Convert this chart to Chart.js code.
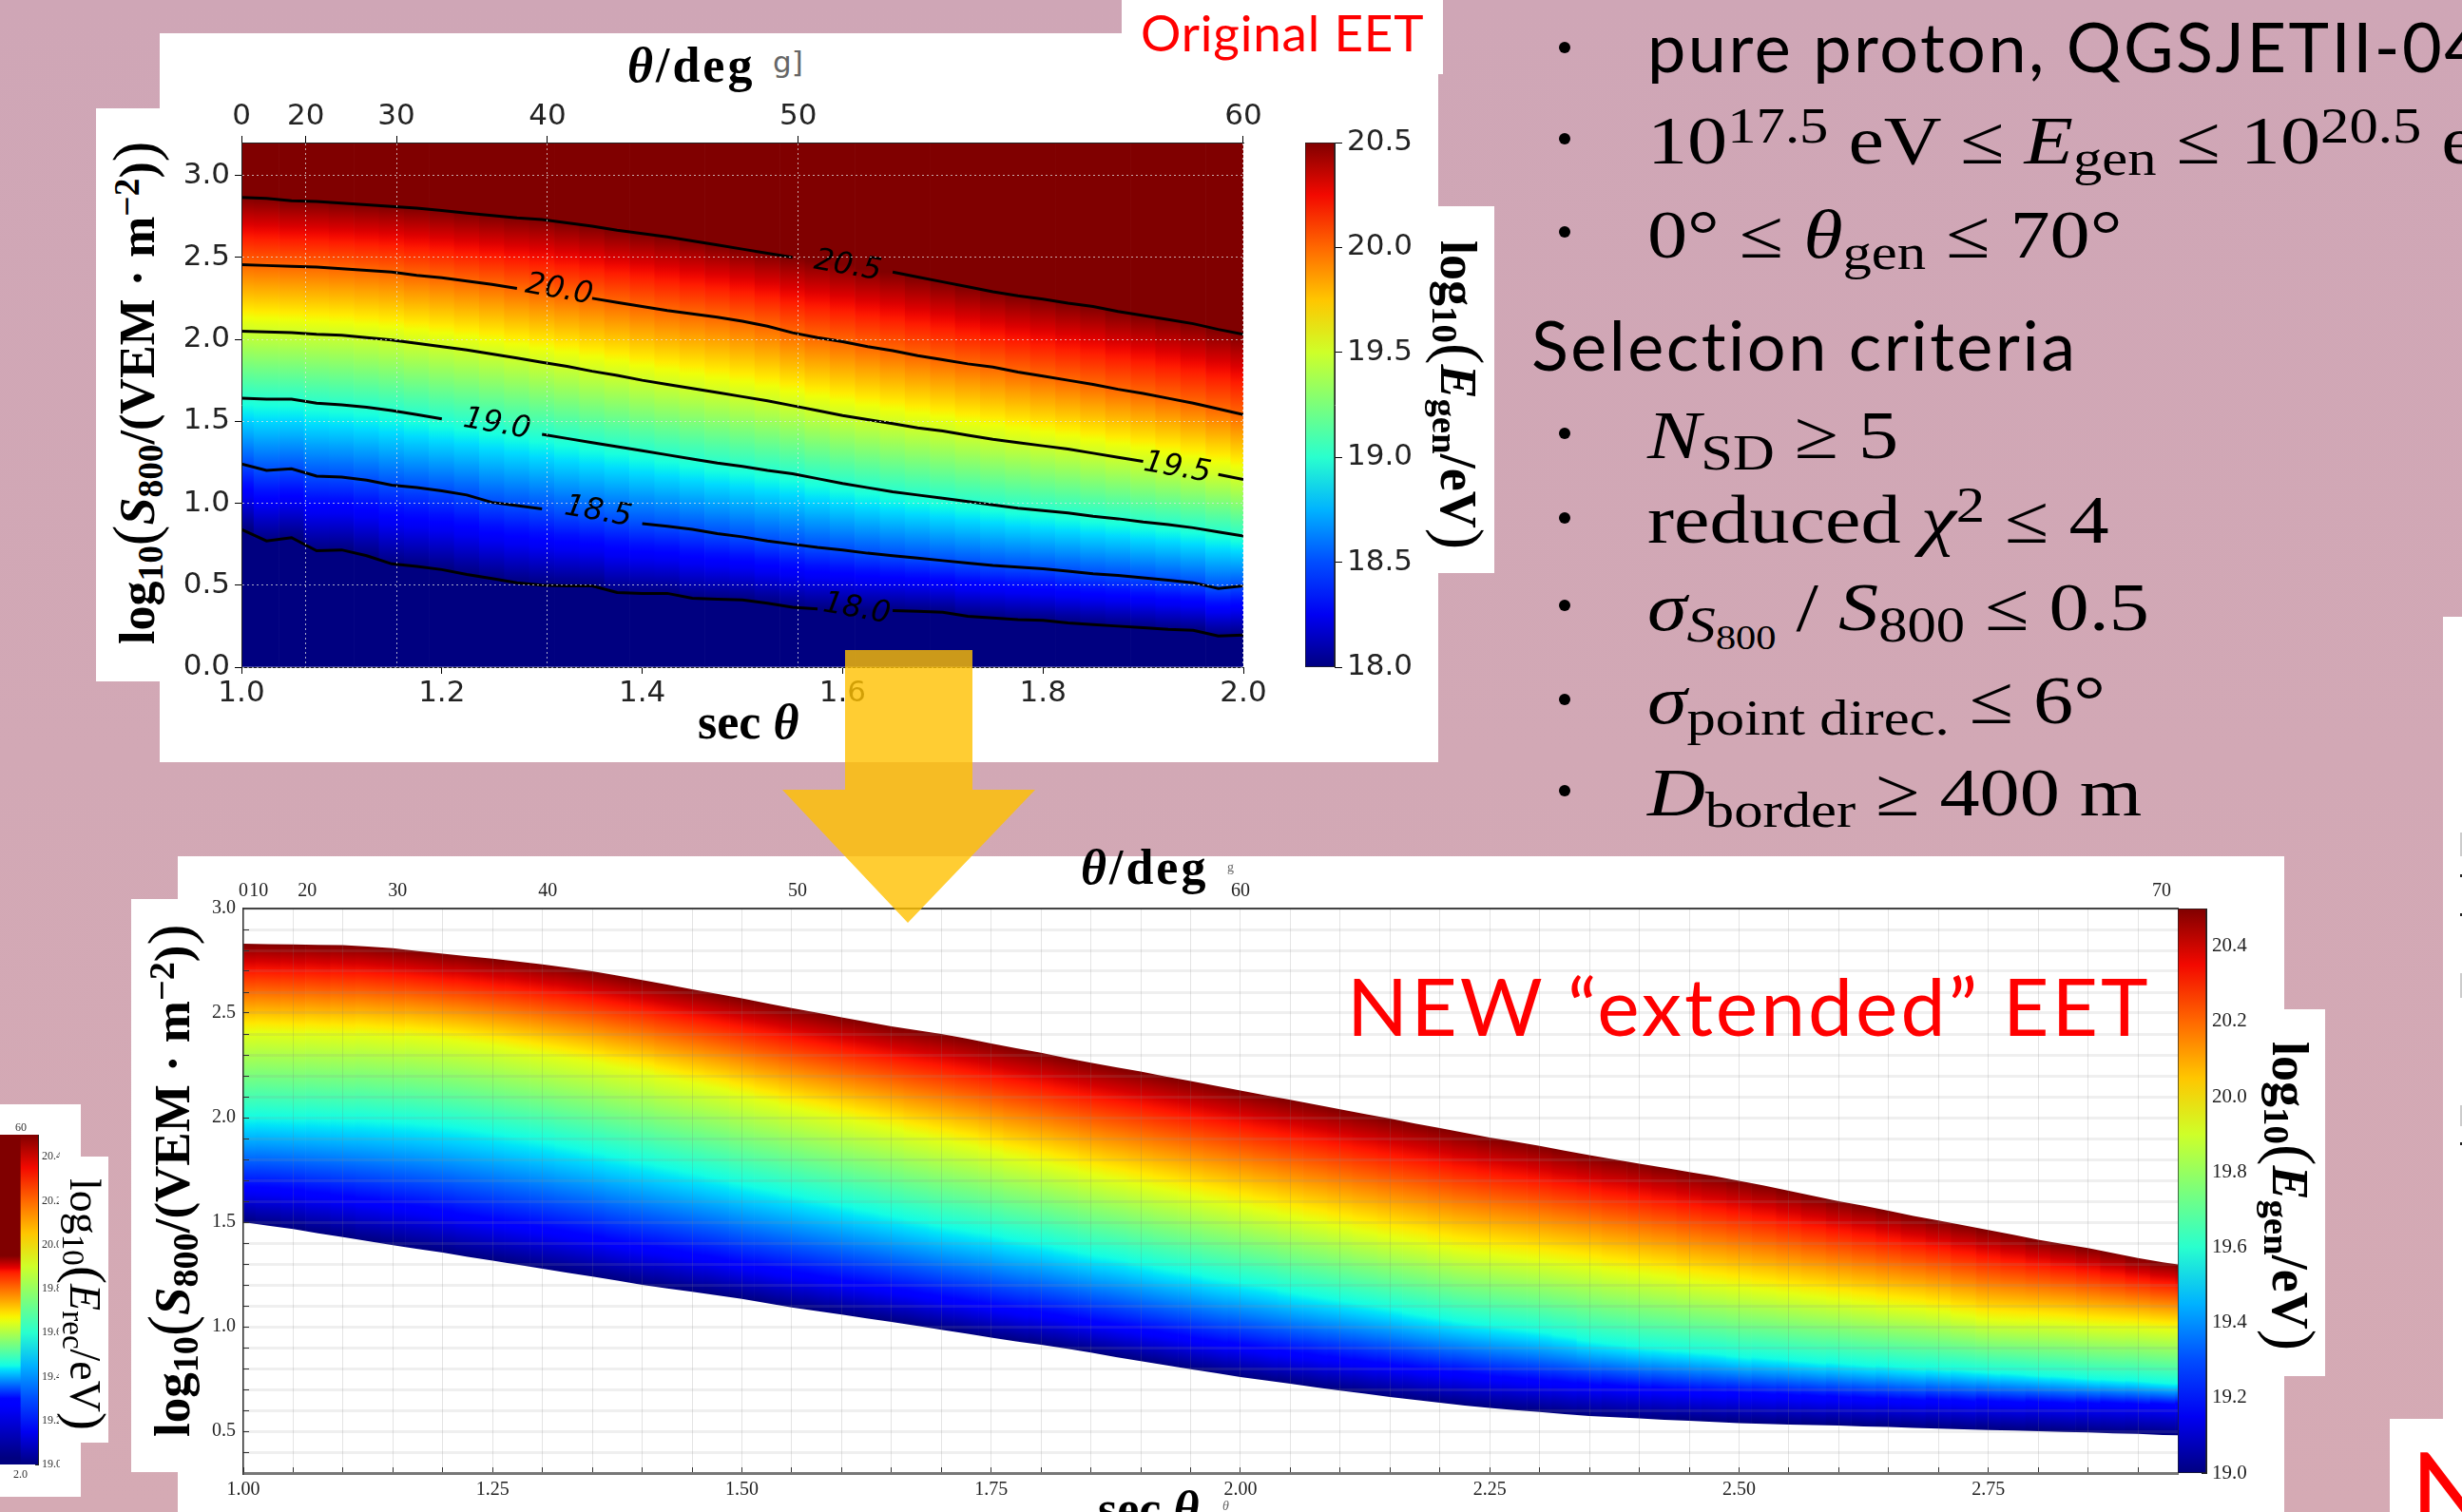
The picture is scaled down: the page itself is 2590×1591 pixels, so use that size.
<!DOCTYPE html>
<html>
<head>
<meta charset="utf-8">
<script src="https://cdn.jsdelivr.net/npm/chart.js@4"></script>
<style>
html, body { margin: 0; width: 2590px; height: 1591px; overflow: hidden; background: linear-gradient(#cfa6b6, #d5aab4); }
.box { position: absolute; background: #fff; }
canvas { position: absolute; }
.t { position: absolute; white-space: nowrap; line-height: 1; }
.sans { font-family: Lato, sans-serif; color: #000; letter-spacing: 2.5px; }
.red { font-family: Lato, sans-serif; color: #f00; }
.math { font-family: 'Liberation Serif', serif; font-size: 72px; color: #000; transform-origin: 0 0; transform: scaleX(1.17); }
.lab { font-family: 'Liberation Serif', serif; font-weight: bold; color: #000; font-size: 52px; }
.rm { font-family: 'Liberation Serif', serif; color: #000; }
.dot { position: absolute; width: 12px; height: 12px; border-radius: 6px; background: #000; }
.sb { font-size: .72em; position: relative; top: .24em; line-height: 0; }
.sp { font-size: .72em; position: relative; top: -.42em; line-height: 0; }
.bp { font-size: 1.25em; font-weight: normal; position: relative; top: .03em; line-height: 0; }
.gr { font-family: 'DejaVu Sans', sans-serif; color: #666; }
.bit { position: absolute; left: 2588px; width: 2px; }
#arrow { position: absolute; left: 823px; top: 684px; width: 266px; height: 287px; background: rgba(255, 192, 0, .8);
  clip-path: polygon(66px 0, 200px 0, 200px 147px, 266px 147px, 132px 287px, 0 147px, 66px 147px); }
</style>
</head>
<body>
<!-- white pieces of the slide, upper plot -->
<div class="box" style="left:168px;top:35px;width:1345px;height:767px"></div>
<div class="box" style="left:101px;top:114px;width:67px;height:603px"></div>
<div class="box" style="left:1180px;top:0;width:338px;height:78px"></div>
<div class="box" style="left:1513px;top:217px;width:59px;height:386px"></div>
<!-- lower plot -->
<div class="box" style="left:187px;top:901px;width:2216px;height:690px"></div>
<div class="box" style="left:138px;top:946px;width:49px;height:603px"></div>
<div class="box" style="left:2403px;top:1062px;width:43px;height:386px"></div>
<div class="box" style="left:2570px;top:649px;width:20px;height:942px"></div>
<div class="box" style="left:2514px;top:1493px;width:76px;height:98px"></div>
<!-- bits of text cut by the right edge -->
<div class="bit" style="top:876px;height:25px;background:#ccc"></div>
<div class="bit" style="top:920px;height:3px;background:#222"></div>
<div class="bit" style="top:961px;height:3px;background:#222"></div>
<div class="bit" style="top:1024px;height:26px;background:#ccc"></div>
<div class="bit" style="top:1163px;height:22px;background:#ccc"></div>
<div class="bit" style="top:1202px;height:3px;background:#222"></div>
<!-- cut off plot on the left -->
<div class="box" style="left:0;top:1162px;width:85px;height:413px"></div>

<canvas id="stripChart" width="77" height="387" style="left:-14px;top:1174px"></canvas>
<div class="box" style="left:62px;top:1217px;width:52px;height:301px"></div>
<div class="t gr" style="left:16px;top:1179px;font:12px 'Liberation Serif';color:#333">60</div>
<div class="t gr" style="left:14px;top:1544px;font:12px 'Liberation Serif';color:#333">2.0</div>
<div class="t rm" style="left:112px;top:1240px;font-size:46px;transform-origin:0 0;transform:rotate(90deg)">log<span class="sb">10</span><span class="bp">(</span><i>E</i><span class="sb">rec</span>/eV<span class="bp">)</span></div>

<canvas id="upperChart" width="1154" height="642" style="left:194px;top:105px"></canvas>
<canvas id="upperBar" width="141" height="592" style="left:1373px;top:130px"></canvas>
<canvas id="lowerChart" width="2105" height="670" style="left:196px;top:921px"></canvas>
<canvas id="lowerBar" width="110" height="624" style="left:2291px;top:941px"></canvas>

<!-- axis titles -->
<div class="t lab" style="left:660px;top:43px;letter-spacing:3px"><i>θ</i>/deg</div>
<div class="t gr" style="left:813px;top:50px;font-size:31px">g]</div>
<div class="t lab" style="left:734px;top:734px">sec <i>θ</i></div>
<div class="t lab" style="left:119px;top:678px;font-size:52px;transform-origin:0 0;transform:rotate(-90deg)">log<span class="sb">10</span><span class="bp">(</span><i>S</i><span class="sb">800</span>/(VEM · m<span class="sp">−2</span>)<span class="bp">)</span></div>
<div class="t lab" style="left:1561px;top:253px;font-size:54px;transform-origin:0 0;transform:rotate(90deg)">log<span class="sb">10</span><span class="bp">(</span><i>E</i><span class="sb">gen</span>/eV<span class="bp">)</span></div>

<div class="t lab" style="left:1137px;top:887px;letter-spacing:3px"><i>θ</i>/deg</div>
<div class="t gr" style="left:1291px;top:905px;font:14px 'Liberation Serif'">g</div>
<div class="t lab" style="left:1155px;top:1562px">sec <i>θ</i></div>
<div class="t gr" style="left:1286px;top:1577px;font:italic 14px 'Liberation Serif'">θ</div>
<div class="t lab" style="left:155px;top:1512px;font-size:53px;transform-origin:0 0;transform:rotate(-90deg)">log<span class="sb">10</span><span class="bp">(</span><i>S</i><span class="sb">800</span>/(VEM · m<span class="sp">−2</span>)<span class="bp">)</span></div>
<div class="t lab" style="left:2436px;top:1096px;font-size:54px;transform-origin:0 0;transform:rotate(90deg)">log<span class="sb">10</span><span class="bp">(</span><i>E</i><span class="sb">gen</span>/eV<span class="bp">)</span></div>

<!-- slide texts -->
<div class="t red" style="left:1200px;top:7px;font-size:53px;letter-spacing:.8px">Original EET</div>
<div class="t red" style="left:1417px;top:1016px;font-size:84px;letter-spacing:3px">NEW “extended” EET</div>
<div class="t red" style="left:2536px;top:1510px;font-size:112px">N</div>

<div class="dot" style="left:1640px;top:44px"></div>
<div class="t sans" style="left:1733px;top:12px;font-size:72px">pure proton, QGSJETII-04</div>
<div class="dot" style="left:1640px;top:140px"></div>
<div class="t math" style="left:1733px;top:112px">10<span class="sp">17.5</span> eV ≤ <i>E</i><span class="sb">gen</span> ≤ 10<span class="sp">20.5</span> eV</div>
<div class="dot" style="left:1640px;top:238px"></div>
<div class="t math" style="left:1733px;top:211px">0° ≤ <i>θ</i><span class="sb">gen</span> ≤ 70°</div>
<div class="t sans" style="left:1611px;top:326px;font-size:72px">Selection criteria</div>
<div class="dot" style="left:1640px;top:450px"></div>
<div class="t math" style="left:1733px;top:422px"><i>N</i><span class="sb">SD</span> ≥ 5</div>
<div class="dot" style="left:1640px;top:539px"></div>
<div class="t math" style="left:1733px;top:511px">reduced <i>χ</i><span class="sp">2</span> ≤ 4</div>
<div class="dot" style="left:1640px;top:631px"></div>
<div class="t math" style="left:1733px;top:603px"><i>σ</i><span class="sb"><i>S</i><span style="font-size:.7em;position:relative;top:.2em">800</span></span> / <i>S</i><span class="sb">800</span> ≤ 0.5</div>
<div class="dot" style="left:1640px;top:730px"></div>
<div class="t math" style="left:1733px;top:701px"><i>σ</i><span class="sb">point direc.</span> ≤ 6°</div>
<div class="dot" style="left:1640px;top:826px"></div>
<div class="t math" style="left:1733px;top:798px"><i>D</i><span class="sb">border</span> ≥ 400 m</div>

<div id="arrow"></div>

<script>
// --- UPPER PLOT DATA | sec theta columns and contour heights --- //
const secUpper = [1.000, 1.025, 1.050, 1.075, 1.100, 1.125, 1.150, 1.175, 1.200, 1.225, 1.250, 1.275, 1.300, 1.325, 1.350, 1.375, 1.400, 1.425, 1.450, 1.475, 1.500, 1.525, 1.550, 1.575, 1.600, 1.625, 1.650, 1.675, 1.700, 1.725, 1.750, 1.775, 1.800, 1.825, 1.850, 1.875, 1.900, 1.925, 1.950, 1.975, 2.000];
const contour180 = [.84, .77, .79, .71, .715, .68, .63, .615, .595, .565, .54, .515, .50, .495, .495, .455, .45, .45, .42, .415, .41, .39, .365, .355, .35, .345, .345, .34, .335, .31, .30, .29, .285, .27, .26, .25, .24, .23, .225, .19, .195];
const contour185 = [1.24, 1.20, 1.21, 1.165, 1.16, 1.14, 1.11, 1.095, 1.075, 1.05, 1.005, .985, .965, .94, .92, .90, .875, .86, .84, .815, .795, .77, .75, .73, .715, .695, .68, .665, .65, .635, .62, .61, .60, .585, .57, .56, .545, .53, .515, .48, .495];
const contour190 = [1.64, 1.635, 1.635, 1.61, 1.60, 1.585, 1.565, 1.54, 1.515, 1.495, 1.47, 1.445, 1.42, 1.395, 1.37, 1.345, 1.32, 1.295, 1.27, 1.245, 1.225, 1.20, 1.18, 1.15, 1.12, 1.095, 1.07, 1.05, 1.03, 1.01, .99, .97, .955, .94, .92, .905, .885, .87, .85, .825, .80];
const contour195 = [2.05, 2.045, 2.04, 2.03, 2.025, 2.01, 1.995, 1.975, 1.955, 1.935, 1.91, 1.885, 1.86, 1.835, 1.805, 1.78, 1.75, 1.725, 1.70, 1.675, 1.65, 1.625, 1.595, 1.565, 1.535, 1.51, 1.485, 1.46, 1.44, 1.415, 1.39, 1.37, 1.35, 1.33, 1.305, 1.28, 1.255, 1.23, 1.205, 1.175, 1.145];
const contour200 = [2.455, 2.45, 2.445, 2.44, 2.43, 2.42, 2.41, 2.39, 2.375, 2.355, 2.335, 2.31, 2.29, 2.27, 2.25, 2.225, 2.20, 2.175, 2.155, 2.135, 2.11, 2.08, 2.04, 2.01, 1.985, 1.955, 1.93, 1.90, 1.875, 1.85, 1.83, 1.80, 1.775, 1.75, 1.725, 1.695, 1.67, 1.64, 1.61, 1.575, 1.54];
const contour205 = [2.865, 2.86, 2.845, 2.84, 2.83, 2.82, 2.81, 2.80, 2.785, 2.77, 2.755, 2.74, 2.73, 2.71, 2.69, 2.665, 2.645, 2.625, 2.60, 2.575, 2.55, 2.525, 2.50, 2.48, 2.455, 2.43, 2.41, 2.38, 2.35, 2.32, 2.29, 2.265, 2.245, 2.22, 2.20, 2.17, 2.145, 2.12, 2.095, 2.06, 2.03];
const upperLevels = [18, 18.5, 19, 19.5, 20, 20.5];
const upperCurves = [contour180, contour185, contour190, contour195, contour200, contour205];

// contour labels, same order as the levels
const contourText = ['18.0', '18.5', '19.0', '19.5', '20.0', '20.5'];
const contourTextX = [1.614, 1.356, 1.255, 1.934, 1.317, 1.605];
const contourTextY = [.353, .945, 1.48, 1.213, 2.30, 2.445];
const contourGapFrom = [1.57, 1.30, 1.20, 1.90, 1.26, 1.55];
const contourGapTo = [1.67, 1.40, 1.30, 1.98, 1.365, 1.655];

// --- LOWER PLOT DATA | edges and colour heights per column --- //
const secLower = [1.000, 1.025, 1.050, 1.075, 1.100, 1.125, 1.150, 1.175, 1.200, 1.225, 1.250, 1.275, 1.300, 1.325, 1.350, 1.375, 1.400, 1.425, 1.450, 1.475, 1.500, 1.525, 1.550, 1.575, 1.600, 1.625, 1.650, 1.675, 1.700, 1.725, 1.750, 1.775, 1.800, 1.825, 1.850, 1.875, 1.900, 1.925, 1.950, 1.975, 2.000, 2.025, 2.050, 2.075, 2.100, 2.125, 2.150, 2.175, 2.200, 2.225, 2.250, 2.275, 2.300, 2.325, 2.350, 2.375, 2.400, 2.425, 2.450, 2.475, 2.500, 2.525, 2.550, 2.575, 2.600, 2.625, 2.650, 2.675, 2.700, 2.725, 2.750, 2.775, 2.800, 2.825, 2.850, 2.875, 2.900, 2.925, 2.950];
const edge190 = [1.50, 1.483, 1.467, 1.447, 1.428, 1.409, 1.39, 1.372, 1.354, 1.334, 1.316, 1.297, 1.277, 1.258, 1.24, 1.22, 1.20, 1.183, 1.167, 1.15, 1.133, 1.112, 1.092, 1.075, 1.058, 1.04, 1.023, 1.004, .985, .967, .948, .93, .914, .895, .876, .855, .835, .816, .797, .778, .759, .743, .727, .71, .694, .679, .664, .65, .636, .623, .611, .601, .592, .582, .573, .567, .561, .555, .55, .544, .539, .535, .532, .529, .527, .523, .52, .516, .512, .509, .506, .503, .50, .497, .494, .49, .487, .482, .48];
const blue1919 = [1.67, 1.665, 1.655, 1.64, 1.625, 1.61, 1.59, 1.575, 1.555, 1.535, 1.515, 1.495, 1.475, 1.455, 1.435, 1.41, 1.39, 1.37, 1.35, 1.33, 1.305, 1.285, 1.265, 1.245, 1.225, 1.205, 1.185, 1.165, 1.145, 1.125, 1.105, 1.085, 1.07, 1.05, 1.03, 1.01, .99, .97, .95, .93, .915, .895, .88, .865, .85, .835, .82, .805, .79, .78, .765, .755, .745, .735, .725, .72, .71, .705, .695, .69, .685, .68, .675, .67, .665, .66, .655, .65, .65, .645, .645, .64, .64, .635, .635, .635, .63, .63, .63];
const cyan1956 = [2.00, 1.998, 1.995, 1.993, 1.99, 1.985, 1.98, 1.97, 1.96, 1.945, 1.925, 1.905, 1.885, 1.86, 1.835, 1.81, 1.785, 1.76, 1.735, 1.71, 1.68, 1.655, 1.63, 1.605, 1.58, 1.555, 1.53, 1.505, 1.48, 1.46, 1.44, 1.415, 1.395, 1.37, 1.345, 1.325, 1.30, 1.275, 1.255, 1.23, 1.21, 1.19, 1.165, 1.145, 1.125, 1.105, 1.085, 1.06, 1.04, 1.02, 1.005, .99, .975, .955, .93, .915, .90, .89, .88, .87, .855, .85, .84, .83, .825, .815, .81, .80, .795, .79, .78, .775, .765, .76, .75, .745, .74, .73, .725];
const yellow1994 = [2.41, 2.408, 2.405, 2.403, 2.40, 2.397, 2.39, 2.385, 2.375, 2.36, 2.345, 2.325, 2.305, 2.285, 2.265, 2.24, 2.22, 2.19, 2.165, 2.14, 2.11, 2.08, 2.05, 2.025, 2.00, 1.975, 1.95, 1.92, 1.895, 1.87, 1.84, 1.81, 1.785, 1.76, 1.73, 1.705, 1.68, 1.655, 1.63, 1.605, 1.58, 1.555, 1.53, 1.505, 1.48, 1.455, 1.43, 1.41, 1.385, 1.365, 1.35, 1.335, 1.32, 1.305, 1.29, 1.27, 1.255, 1.24, 1.22, 1.205, 1.19, 1.175, 1.16, 1.145, 1.13, 1.115, 1.10, 1.09, 1.075, 1.055, 1.035, 1.03, 1.025, 1.02, 1.01, 1.005, 1.0, .99, .985];
const edge205 = [2.832, 2.830, 2.828, 2.826, 2.825, 2.818, 2.81, 2.797, 2.784, 2.772, 2.76, 2.747, 2.733, 2.717, 2.70, 2.68, 2.658, 2.636, 2.614, 2.592, 2.57, 2.547, 2.524, 2.502, 2.48, 2.458, 2.436, 2.418, 2.40, 2.378, 2.355, 2.332, 2.31, 2.285, 2.262, 2.241, 2.22, 2.197, 2.175, 2.152, 2.13, 2.107, 2.085, 2.062, 2.04, 2.017, 1.995, 1.972, 1.95, 1.927, 1.905, 1.885, 1.865, 1.842, 1.82, 1.80, 1.78, 1.76, 1.74, 1.72, 1.698, 1.675, 1.65, 1.625, 1.60, 1.578, 1.555, 1.53, 1.508, 1.485, 1.462, 1.44, 1.416, 1.396, 1.376, 1.352, 1.328, 1.308, 1.29];
const lowerLevels = [19, 19.19, 19.56, 19.94, 20.5];
const lowerCurves = [edge190, blue1919, cyan1956, yellow1994, edge205];

// --- CUT OFF PLOT | one column, heights given on the colour axis --- //
const stripLevels = [19, 19.19, 19.56, 19.94, 20.31, 20.5];
const stripHeights = [19.03, 19.30, 19.45, 19.65, 19.87, 19.95];

// --- TICKS --- //
const thetaUpper = [0, 20, 30, 40, 50, 60];
const thetaLower = [0, 10, 20, 30, 40, 50, 60, 70];
const thetaMinor = [2, 4, 6, 8, 12, 14, 16, 18, 22, 24, 26, 28, 32, 34, 36, 38, 42, 44, 46, 48, 52, 54, 56, 58, 62, 64, 66, 68];

const sec = deg => 1 / Math.cos(deg * Math.PI / 180);

// --- JET COLOURS --- //
const jetR = [[0, 0], [.35, 0], [.66, 1], [.89, 1], [1, .5]];
const jetG = [[0, 0], [.125, 0], [.375, 1], [.64, 1], [.91, 0], [1, 0]];
const jetB = [[0, .5], [.11, 1], [.34, 1], [.65, 0], [1, 0]];

function piece(keys, t) {
  for (let i = 1; i < keys.length; i++) {
    if (t <= keys[i][0]) {
      const f = (t - keys[i - 1][0]) / (keys[i][0] - keys[i - 1][0]);
      return keys[i - 1][1] + f * (keys[i][1] - keys[i - 1][1]);
    }
  }
  return keys[keys.length - 1][1];
}

function jet(t) {
  t = Math.min(1, Math.max(0, t));
  const c = [jetR, jetG, jetB].map(k => Math.round(piece(k, t) * 255));
  return `rgb(${c[0]},${c[1]},${c[2]})`;
}

// gradient of one column: energy runs between the heights of the levels.
// tilt is the pixel slope of the colour bands, so neighbour columns line up
function columnGradient(chart, levels, heights, low, high, tilt = 0, center = 0) {
  const y = chart.scales.y;
  if (!y || !Number.isFinite(y.bottom) || y.bottom === y.top) return '#000'; // scales not laid out yet
  const bottom = y.bottom;
  const span = bottom - y.top;
  const norm = 1 + tilt * tilt;
  const grad = chart.ctx.createLinearGradient(center, bottom, center + tilt * span / norm, bottom - span / norm);
  for (let i = 0; i < levels.length - 1; i++) {
    for (let k = 0; k <= 10; k++) {
      const f = k / 10;
      const energy = levels[i] + f * (levels[i + 1] - levels[i]);
      const h = heights[i] + f * (heights[i + 1] - heights[i]);
      const pos = (bottom - y.getPixelForValue(h)) / span;
      grad.addColorStop(Math.min(1, Math.max(0, pos)), jet((energy - low) / (high - low)));
    }
  }
  return grad;
}

function lowerColumn(c) {
  const { x, y } = c.chart.scales;
  if (!x || !Number.isFinite(x.left) || !Number.isFinite(y.bottom)) return '#000';
  const i = c.dataIndex;
  const a = Math.max(i - 1, 0);
  const b = Math.min(i + 1, secLower.length - 1);
  const dx = x.getPixelForValue(secLower[b]) - x.getPixelForValue(secLower[a]);
  let tilt = 0;
  lowerCurves.forEach(curve => { tilt += (y.getPixelForValue(curve[b]) - y.getPixelForValue(curve[a])) / dx; });
  tilt /= lowerCurves.length;
  return columnGradient(c.chart, lowerLevels, lowerCurves.map(k => k[i]), 19, 20.5, tilt, x.getPixelForValue(secLower[i]));
}

// fixes the axis sizes so that the plot box lands where it has to
const fixWidth = w => s => { s.width = w; s.paddingTop = s.paddingBottom = 0; };
const fixHeight = h => s => { s.height = h; s.paddingLeft = s.paddingRight = 0; };

const contourLabels = {
  id: 'contourLabels',
  afterDatasetsDraw(chart) {
    const { ctx, scales } = chart;
    contourText.forEach((text, i) => {
      ctx.save();
      ctx.translate(scales.x.getPixelForValue(contourTextX[i]), scales.y.getPixelForValue(contourTextY[i]));
      ctx.rotate(10 * Math.PI / 180);
      ctx.font = "italic 32px 'DejaVu Sans'";
      ctx.fillStyle = '#000';
      ctx.textAlign = 'center';
      ctx.textBaseline = 'middle';
      ctx.fillText(text, 0, 0);
      ctx.restore();
    });
  }
};

// --- UPPER PLOT --- //
const upperFont = { family: "'DejaVu Sans'", size: 31 };

new Chart(document.getElementById('upperChart'), {
  type: 'bar',
  data: {
    datasets: [
      {
        type: 'bar',
        order: 2,
        data: secUpper.map(x => ({ x, y: [0, 3.2] })),
        barPercentage: 1,
        categoryPercentage: 1,
        backgroundColor: c => columnGradient(c.chart, upperLevels, upperCurves.map(a => a[c.dataIndex]), 18, 20.5)
      },
      ...upperCurves.map((curve, n) => ({
        type: 'line',
        order: 1,
        data: secUpper.map((x, i) => ({ x, y: curve[i] })),
        borderWidth: 3,
        pointRadius: 0,
        segment: {
          borderColor: s => (s.p0.parsed.x >= contourGapFrom[n] && s.p1.parsed.x <= contourGapTo[n] ? 'transparent' : '#000')
        }
      }))
    ]
  },
  options: {
    responsive: false,
    animation: false,
    layout: { padding: { right: 40 } },
    plugins: { legend: { display: false }, tooltip: { enabled: false } },
    scales: {
      x: {
        type: 'linear', min: 1, max: 2, offset: false, position: 'bottom',
        afterFit: fixHeight(45),
        ticks: { stepSize: .2, includeBounds: false, maxRotation: 0, font: upperFont, color: '#222', padding: 2, callback: v => v.toFixed(1) },
        grid: { offset: false, drawOnChartArea: false, tickLength: 7, tickColor: '#000' },
        border: { color: '#222' }
      },
      x2: {
        type: 'linear', axis: 'x', min: 1, max: 2, offset: false, position: 'top',
        afterFit: fixHeight(45),
        afterBuildTicks: s => { s.ticks = thetaUpper.map(t => ({ value: sec(t) })); },
        ticks: { autoSkip: false, maxRotation: 0, font: upperFont, color: '#222', padding: 1, callback: (v, i) => thetaUpper[i] },
        grid: { offset: false, z: 1, color: 'rgba(225,225,225,.75)', tickLength: 7, tickColor: '#000' },
        border: { color: '#222', dash: [2, 3], z: 2 }
      },
      y: {
        min: 0, max: 3.2, position: 'left',
        afterFit: fixWidth(60),
        ticks: { stepSize: .5, includeBounds: false, font: upperFont, color: '#222', padding: 5, callback: v => v.toFixed(1) },
        grid: { z: 1, color: 'rgba(225,225,225,.75)', tickLength: 7, tickColor: '#000' },
        border: { color: '#222', dash: [2, 3], z: 2 }
      }
    }
  },
  plugins: [contourLabels]
});

new Chart(document.getElementById('upperBar'), {
  type: 'bar',
  data: {
    labels: ['E'],
    datasets: [{
      data: [[18, 20.5]],
      barPercentage: 1,
      categoryPercentage: 1,
      borderColor: '#222',
      borderWidth: 1,
      borderSkipped: false,
      backgroundColor: c => columnGradient(c.chart, [18, 20.5], [18, 20.5], 18, 20.5)
    }]
  },
  options: {
    responsive: false,
    animation: false,
    plugins: { legend: { display: false }, tooltip: { enabled: false } },
    scales: {
      x: { display: false },
      y: {
        min: 18, max: 20.5, position: 'right',
        afterFit: fixWidth(110),
        ticks: { stepSize: .5, font: upperFont, color: '#222', padding: 5, callback: v => v.toFixed(1) },
        grid: { drawOnChartArea: false, tickLength: 8, tickColor: '#000' },
        border: { color: '#222' }
      }
    },
    layout: { padding: { top: 20, bottom: 20 } }
  }
});

// --- LOWER PLOT --- //
const lowerFont = { family: "'Liberation Serif'", size: 20 };

new Chart(document.getElementById('lowerChart'), {
  type: 'bar',
  data: {
    datasets: [
      {
        type: 'bar',
        order: 2,
        // columns stick out a little, the two white fills below trim them to the edges
        data: secLower.map((x, i) => ({ x, y: [edge190[i] - .04, edge205[i] + .04] })),
        barPercentage: 1,
        categoryPercentage: 1,
        backgroundColor: lowerColumn
      },
      {
        type: 'line',
        order: 1,
        data: secLower.map((x, i) => ({ x, y: edge205[i] })),
        borderWidth: 0,
        pointRadius: 0,
        backgroundColor: '#fff',
        fill: 'end'
      },
      {
        type: 'line',
        order: 1,
        data: secLower.map((x, i) => ({ x, y: edge190[i] })),
        borderWidth: 0,
        pointRadius: 0,
        backgroundColor: '#fff',
        fill: 'start'
      }
    ]
  },
  options: {
    responsive: false,
    animation: false,
    plugins: { legend: { display: false }, tooltip: { enabled: false } },
    scales: {
      x: {
        type: 'linear', min: 1, max: 2.94, offset: false, position: 'bottom',
        afterFit: fixHeight(41),
        ticks: {
          stepSize: .05, includeBounds: false, autoSkip: false, maxRotation: 0, font: lowerFont, color: '#222', padding: 12,
          callback: v => (Math.abs(v * 4 - Math.round(v * 4)) < 1e-6 ? v.toFixed(2) : '')
        },
        grid: { offset: false, z: 1, color: 'rgba(120,120,120,.2)', tickLength: -6, tickColor: '#333' },
        border: { color: '#777', width: 3, z: 2 }
      },
      x2: {
        type: 'linear', axis: 'x', min: 1, max: 2.94, offset: false, position: 'top',
        afterFit: fixHeight(35),
        afterBuildTicks: s => {
          s.ticks = thetaLower.concat(thetaMinor).map(t => ({ value: sec(t), major: false }));
        },
        ticks: {
          autoSkip: false, maxRotation: 0, font: lowerFont, color: '#222', padding: 12,
          callback: (v, i) => (i < thetaLower.length ? thetaLower[i] : '')
        },
        grid: { offset: false, drawOnChartArea: false, tickLength: -6, tickColor: '#333' },
        border: { color: '#444', width: 2, z: 2 }
      },
      y: {
        min: .3, max: 3, position: 'left',
        afterFit: fixWidth(60),
        ticks: {
          stepSize: .1, includeBounds: false, autoSkip: false, font: lowerFont, color: '#222', padding: 14,
          callback: v => (Math.abs(v * 2 - Math.round(v * 2)) < 1e-6 ? v.toFixed(1) : '')
        },
        grid: { z: 1, color: 'rgba(150,150,150,.15)', lineWidth: 3, tickLength: -6, tickColor: '#333', tickWidth: 1 },
        border: { color: '#333', width: 1.5, z: 2 }
      },
      yr: {
        type: 'linear', axis: 'y', min: .3, max: 3, position: 'right',
        afterFit: fixWidth(10),
        ticks: { stepSize: .1, includeBounds: false, autoSkip: false, display: false },
        grid: { drawOnChartArea: false, tickLength: -6, tickColor: '#333' },
        border: { color: '#333' }
      }
    }
  }
});

new Chart(document.getElementById('lowerBar'), {
  type: 'bar',
  data: {
    labels: ['E'],
    datasets: [{
      data: [[19, 20.5]],
      barPercentage: 1,
      categoryPercentage: 1,
      borderColor: '#222',
      borderWidth: 1,
      borderSkipped: false,
      backgroundColor: c => columnGradient(c.chart, [19, 20.5], [19, 20.5], 19, 20.5)
    }]
  },
  options: {
    responsive: false,
    animation: false,
    plugins: { legend: { display: false }, tooltip: { enabled: false } },
    layout: { padding: { top: 15, bottom: 15 } },
    scales: {
      x: { display: false },
      y: {
        min: 19, max: 20.5, position: 'right',
        afterFit: fixWidth(80),
        ticks: {
          stepSize: .05, autoSkip: false, font: { family: "'Liberation Serif'", size: 21 }, color: '#222', padding: 11,
          callback: v => (Math.abs(v * 5 - Math.round(v * 5)) < 1e-6 ? v.toFixed(1) : '')
        },
        grid: { drawOnChartArea: false, tickLength: -5, tickColor: '#222' },
        border: { color: '#222' }
      }
    }
  }
});

// --- CUT OFF PLOT --- //
new Chart(document.getElementById('stripChart'), {
  type: 'bar',
  data: {
    labels: ['a', 'b', 'c'],
    datasets: [{
      data: [[19, 20.5], [19, 20.5], [19, 20.5]],
      barPercentage: 1,
      categoryPercentage: 1,
      backgroundColor: c => (c.dataIndex === 2
        ? columnGradient(c.chart, [19, 20.5], [19, 20.5], 19, 20.5)
        : columnGradient(c.chart, stripLevels, stripHeights, 19, 20.5))
    }]
  },
  options: {
    responsive: false,
    animation: false,
    plugins: { legend: { display: false }, tooltip: { enabled: false } },
    layout: { padding: { top: 20, bottom: 20 } },
    scales: {
      x: { display: false },
      y: {
        min: 19, max: 20.5, position: 'right',
        afterFit: fixWidth(23),
        ticks: {
          stepSize: .05, autoSkip: false, font: { family: "'Liberation Serif'", size: 12 }, color: '#333', padding: 7,
          callback: v => (Math.abs(v * 5 - Math.round(v * 5)) < 1e-6 ? v.toFixed(1) : '')
        },
        grid: { drawOnChartArea: false, tickLength: -3, tickColor: '#222' },
        border: { color: '#222' }
      }
    }
  }
});
</script>
</body>
</html>
